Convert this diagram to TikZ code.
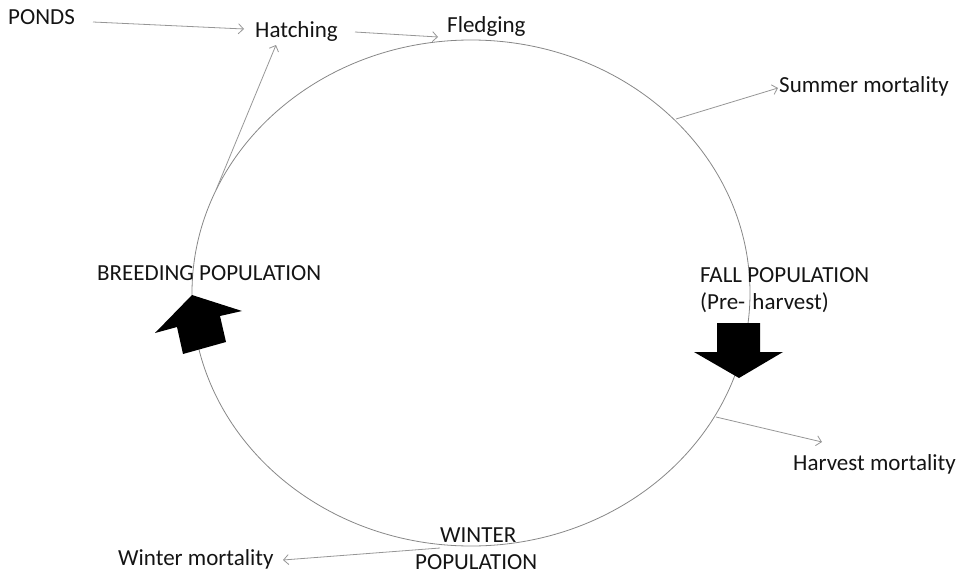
\documentclass[tikz,border=0pt]{standalone}
\usepackage{fontspec}
\setmainfont{Carlito}
\usetikzlibrary{arrows.meta}
\definecolor{ln}{RGB}{150,150,150}
\definecolor{cyc}{RGB}{135,135,135}
\definecolor{txt}{RGB}{20,20,20}
\tikzset{
  lbl/.style={anchor=base west, inner sep=0pt, font=\fontsize{23}{27}\selectfont, text=txt},
  flow/.style={draw=ln, line width=0.8pt, -{Straight Barb[length=5pt,width=10pt]}},
  bigarrow/.style={fill=black, draw=none}
}
\begin{document}
\begin{tikzpicture}[x=1pt,y=-1pt]
\useasboundingbox (0,0) rectangle (962,573);
% cycle
\draw[cyc, line width=0.8pt] (471,293) ellipse [x radius=279, y radius=253];
% labels
\node[lbl] (ponds) at (8,24) {PONDS};
\node[lbl] (hatch) at (255,37) {Hatching};
\node[lbl] (fledge) at (447,32) {Fledging};
\node[lbl] (summer) at (779,92) {Summer mortality};
\node[lbl] (breed) at (97,280) {BREEDING POPULATION};
\node[lbl] (fall) at (700,282) {FALL POPULATION};
\node[lbl] (pre) at (700,309) {(Pre-\hspace{2pt} harvest)};
\node[lbl] (harvest) at (793,470) {Harvest mortality};
\node[lbl] (winterm) at (118,565) {Winter mortality};
\node[lbl] (wint1) at (440,542) {WINTER};
\node[lbl] (wint2) at (415,569) {POPULATION};
% connector end points
\coordinate (pondsE) at (93,22);
\coordinate (hatchW) at (244,29);
\coordinate (hatchE) at (355,32);
\coordinate (fledgeW) at (438,37);
\coordinate (hatchS) at (276,45);
\coordinate (cycBreed) at (216,190);
\coordinate (cycSummer) at (676,119);
\coordinate (summerW) at (778,88);
\coordinate (cycHarvest) at (716,417);
\coordinate (harvestN) at (822,442);
\coordinate (cycWinter) at (440,548);
\coordinate (wintermE) at (283,560);
% connectors
\draw[flow] (pondsE) -- (hatchW);
\draw[flow] (hatchE) -- (fledgeW);
\draw[flow] (cycBreed) -- (hatchS);
\draw[flow] (cycSummer) -- (summerW);
\draw[flow] (cycHarvest) -- (harvestN);
\draw[flow] (cycWinter) -- (wintermE);
% big block arrows
\fill[bigarrow] (192,295) -- (242,311) -- (220,316) -- (226,342) -- (183,354) -- (177,327) -- (155,333) -- cycle;
\fill[bigarrow] (717,323) -- (760,323) -- (760,352) -- (783,352) -- (739,378) -- (694,352) -- (717,352) -- cycle;
\end{tikzpicture}
\end{document}
